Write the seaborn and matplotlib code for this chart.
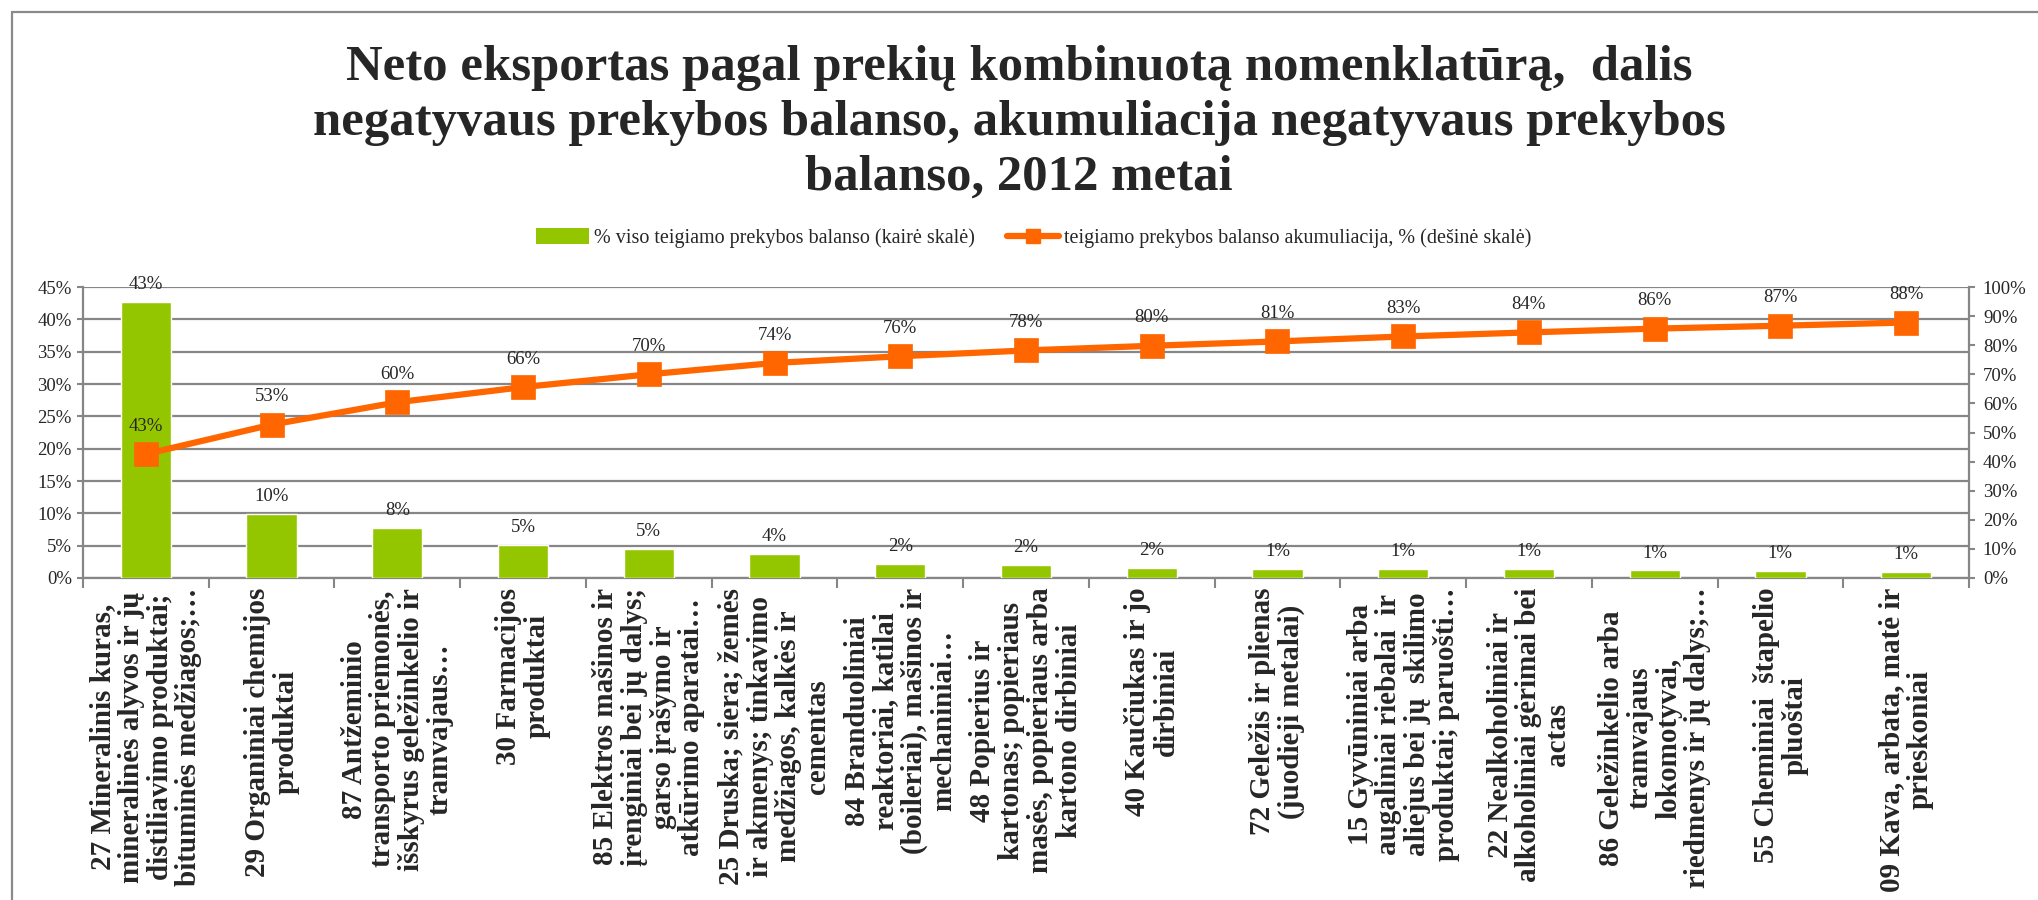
import numpy as np
import pandas as pd
import matplotlib
matplotlib.use("Agg")
import matplotlib.pyplot as plt
from matplotlib.lines import Line2D
from matplotlib.patches import Patch
from matplotlib.ticker import FuncFormatter, FixedLocator
import seaborn as sns

# ---------------- data ----------------
categories = [
    "27 Mineralinis kuras,\nmineralinės alyvos ir jų\ndistiliavimo produktai;\nbituminės medžiagos;…",
    "29 Organiniai chemijos\nproduktai",
    "87 Antžeminio\ntransporto priemonės,\nišskyrus geležinkelio ir\ntramvajaus…",
    "30 Farmacijos\nproduktai",
    "85 Elektros mašinos ir\nįrenginiai bei jų dalys;\ngarso įrašymo ir\natkūrimo aparatai…",
    "25 Druska; siera; žemės\nir akmenys; tinkavimo\nmedžiagos, kalkės ir\ncementas",
    "84 Branduoliniai\nreaktoriai, katilai\n(boileriai), mašinos ir\nmechaniniai…",
    "48 Popierius ir\nkartonas; popieriaus\nmasės, popieriaus arba\nkartono dirbiniai",
    "40 Kaučiukas ir jo\ndirbiniai",
    "72 Geležis ir plienas\n(juodieji metalai)",
    "15 Gyvūniniai arba\naugaliniai riebalai  ir\naliejus bei jų  skilimo\nproduktai; paruošti…",
    "22 Nealkoholiniai ir\nalkoholiniai gėrimai bei\nactas",
    "86 Geležinkelio arba\ntramvajaus\nlokomotyvai,\nriedmenys ir jų dalys;…",
    "55 Cheminiai  štapelio\npluoštai",
    "09 Kava, arbata, matė ir\nprieskoniai",
]
share_pct = [42.75, 9.94, 7.8, 5.15, 4.55, 3.76, 2.2, 2.05, 1.6, 1.44, 1.44, 1.44, 1.24, 1.13, 0.97]
cumulative_pct = [42.6, 52.7, 60.4, 65.6, 70.0, 73.9, 76.2, 78.2, 79.8, 81.3, 83.0, 84.4, 85.7, 86.7, 87.8]
left_ticks = [0, 5, 10, 15, 20, 25, 30, 35, 40, 45]
right_ticks = [0, 10, 20, 30, 40, 50, 60, 70, 80, 90, 100]

title = ("Neto eksportas pagal prekių kombinuotą nomenklatūrą,  dalis\n"
         "negatyvaus prekybos balanso, akumuliacija negatyvaus prekybos\n"
         "balanso, 2012 metai")
legend_bar = "% viso teigiamo prekybos balanso (kairė skalė)"
legend_line = "teigiamo prekybos balanso akumuliacija, % (dešinė skalė)"

df = pd.DataFrame({"category": categories, "share": share_pct, "cum": cumulative_pct})

# ---------------- style ----------------
GREEN = "#94C600"
ORANGE = "#FF6600"
GRID = "#868686"

sns.set_style("white")
plt.rcParams["font.family"] = ["Liberation Serif", "DejaVu Serif"]

W, H = 2038, 900
fig = plt.figure(figsize=(W / 100, H / 100), dpi=100)
ax = fig.add_axes([83 / W, 1 - 578 / H, (1969 - 83) / W, (578 - 287) / H])
ax2 = ax.twinx()

sns.barplot(data=df, x="category", y="share", ax=ax, color=GREEN,
            saturation=1, width=0.4, zorder=3)
sns.pointplot(data=df, x="category", y="cum", ax=ax2, color=ORANGE,
              marker="s", markersize=14, linewidth=4.5, errorbar=None)

# axes limits / ticks
ax.set_ylim(0, 45)
ax2.set_ylim(0, 100)
ax.set_xlim(-0.5, len(categories) - 0.5)
ax.yaxis.set_major_locator(FixedLocator(left_ticks))
ax2.yaxis.set_major_locator(FixedLocator(right_ticks))
pct = FuncFormatter(lambda v, p: f"{v:.0f}%")
ax.yaxis.set_major_formatter(pct)
ax2.yaxis.set_major_formatter(pct)

ax.set_xlabel("")
ax.set_ylabel("")
ax2.set_ylabel("")

ax.yaxis.grid(True, color=GRID, linewidth=1.6, zorder=0)
ax.xaxis.grid(False)
ax.set_axisbelow(True)

for s in ["top", "right"]:
    ax.spines[s].set_visible(False)
for s in ["left", "bottom"]:
    ax.spines[s].set_color(GRID)
    ax.spines[s].set_linewidth(1.6)
for s in ["top", "left", "bottom"]:
    ax2.spines[s].set_visible(False)
ax2.spines["right"].set_color(GRID)
ax2.spines["right"].set_linewidth(1.6)

ax.tick_params(axis="y", which="major", direction="out", length=4, width=1.5,
               color=GRID, labelsize=13.5, pad=4, left=True)
ax2.tick_params(axis="y", which="major", direction="out", length=4, width=1.5,
                color=GRID, labelsize=13.5, pad=6, right=True)

# category boundary ticks on x axis
ax.xaxis.set_minor_locator(FixedLocator(np.arange(-0.5, len(categories), 1.0)))
ax.tick_params(axis="x", which="minor", direction="out", length=7, width=1.5,
               color=GRID, bottom=True)
ax.tick_params(axis="x", which="major", length=0, pad=7)
ax.set_xticks(range(len(categories)))
ax.set_xticklabels(categories, rotation=90, ha="center", va="top",
                   multialignment="center", fontsize=21, fontweight="bold",
                   linespacing=1.08)

# data labels
ax.bar_label(ax.containers[0], labels=[f"{v:.0f}%" for v in share_pct],
             padding=6, fontsize=13.5)
for i, v in enumerate(cumulative_pct):
    ax2.annotate(f"{v:.0f}%", (i, v), xytext=(0, 14), textcoords="offset points",
                 ha="center", va="bottom", fontsize=13.5)

# title
fig.text(0.5, 1 - 123 / H, title, ha="center", va="center", fontsize=36.5,
         fontweight="bold", linespacing=1.25)

# legend
handles = [Patch(facecolor=GREEN, edgecolor="none"),
           Line2D([0], [0], color=ORANGE, linewidth=4.5, marker="s", markersize=10)]
fig.legend(handles, [legend_bar, legend_line], loc="center",
           bbox_to_anchor=(1034 / W, 1 - 238 / H), ncol=2, frameon=False,
           fontsize=14.5, handlelength=2.6, handletextpad=0.25, columnspacing=1.6,
           handleheight=0.8)

# chart frame
fig.add_artist(Line2D([12 / W, 12 / W], [0, 1 - 12 / H], transform=fig.transFigure,
                      color="#8a8a8a", linewidth=1.6))
fig.add_artist(Line2D([12 / W, 1], [1 - 12 / H, 1 - 12 / H], transform=fig.transFigure,
                      color="#8a8a8a", linewidth=1.6))

fig.savefig("out.png", dpi=100, facecolor="white")
